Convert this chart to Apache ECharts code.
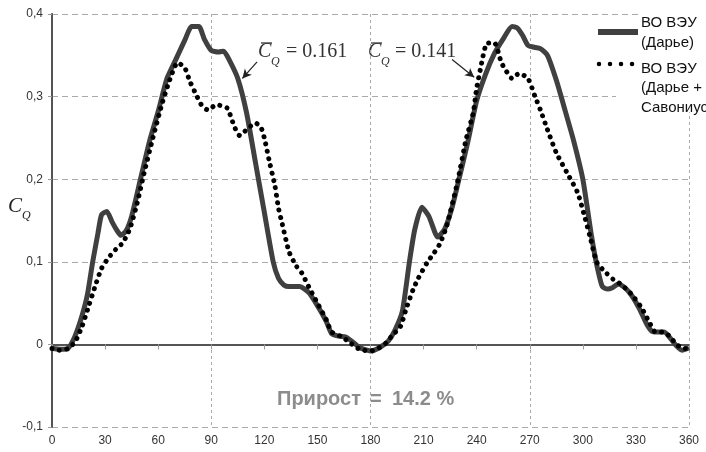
<!DOCTYPE html>
<html>
<head>
<meta charset="utf-8">
<script src="https://cdn.jsdelivr.net/npm/echarts@6/dist/echarts.min.js"></script>
<style>
  html, body { margin: 0; padding: 0; background: #fff; }
  #main { width: 706px; height: 452px; }
</style>
</head>
<body>
<div id="main"></div>
<script>
// угол поворота, градусы
var xTicks = [0, 30, 60, 90, 120, 150, 180, 210, 240, 270, 300, 330, 360];
var yTicks = [-0.1, 0, 0.1, 0.2, 0.3, 0.4];

// ВО ВЭУ (Дарье) — сплошная
var angDarrieus = [0,5,9,13,17,20,23,26,28,31,34,37,39,42,45,50,55,60,65,70,75,79,83,86,90,94,97,100,105,110,115,120,125,128,131,134,140,145,150,155,158,162,166,170,174,180,185,190,194,198,202,205,209,213,218,222,226,230,235,240,245,250,255,260,263,266,269,272,276,280,285,290,295,300,305,308,311,314,317,320,324,328,332,336,339,342,346,350,353,356,360];
var cqDarrieus = [-0.005,-0.006,-0.005,0.01,0.035,0.06,0.1,0.135,0.157,0.161,0.148,0.137,0.132,0.138,0.155,0.2,0.245,0.282,0.322,0.345,0.368,0.385,0.385,0.37,0.356,0.354,0.355,0.345,0.322,0.28,0.22,0.16,0.1,0.08,0.072,0.07,0.07,0.063,0.047,0.028,0.013,0.01,0.009,0.003,-0.004,-0.008,-0.004,0.004,0.018,0.04,0.1,0.139,0.166,0.155,0.13,0.14,0.165,0.2,0.245,0.295,0.327,0.352,0.37,0.385,0.383,0.374,0.362,0.36,0.358,0.35,0.32,0.283,0.245,0.2,0.13,0.095,0.07,0.067,0.069,0.073,0.068,0.058,0.043,0.025,0.016,0.015,0.015,0.006,-0.002,-0.007,-0.004];

// ВО ВЭУ (Дарье + Савониус) — пунктир
var angHybrid = [0,4,9,13,17,21,24,28,32,36,40,44,48,52,57,62,66,71,75,78,82,85,88,93,99,103,106,110,115,118,120,123,126,128,130,134,138,141,146,150,155,158,163,168,172,176,180,184,188,192,197,200,204,207,212,216,219,223,229,234,238,240,242,246,250,254,257,260,264,269,273,276,280,285,291,297,301,304,308,313,317,322,327,333,338,341,345,349,353,357,360];
var cqHybrid = [-0.005,-0.007,-0.005,0.003,0.022,0.048,0.068,0.092,0.105,0.115,0.123,0.14,0.17,0.207,0.25,0.29,0.317,0.341,0.335,0.318,0.3,0.288,0.284,0.29,0.286,0.264,0.253,0.26,0.268,0.263,0.25,0.22,0.192,0.165,0.147,0.112,0.095,0.087,0.066,0.05,0.03,0.015,0.01,0.003,-0.004,-0.007,-0.008,-0.005,0,0.01,0.022,0.042,0.066,0.08,0.099,0.111,0.121,0.143,0.195,0.248,0.28,0.31,0.332,0.365,0.365,0.341,0.33,0.322,0.328,0.322,0.3,0.284,0.26,0.232,0.208,0.184,0.155,0.131,0.099,0.087,0.079,0.072,0.062,0.045,0.025,0.015,0.015,0.01,0,-0.005,-0.005];

function pairs(xs, ys) {
  var out = [];
  for (var i = 0; i < xs.length; i++) out.push([xs[i], ys[i]]);
  return out;
}

var myChart = echarts.init(document.getElementById('main'));
var serif = '"Liberation Serif", "DejaVu Serif", serif';
var sans = '"Liberation Sans", Arial, sans-serif';

myChart.setOption({
  animation: false,
  backgroundColor: '#fff',
  grid: { left: 52, right: 17, top: 14, bottom: 25 },
  xAxis: [{
    type: 'value', min: 0, max: 360, interval: 30,
    axisLine: { lineStyle: { color: '#9a9a9a', width: 2 } },
    axisTick: { show: true, length: 5, lineStyle: { color: '#9a9a9a' } },
    axisLabel: { color: '#333', fontSize: 12, fontFamily: sans, margin: 8 },
    splitLine: { show: false }
  }, {
    // верхняя рамка + вертикальная сетка через 90
    type: 'value', min: 0, max: 360, interval: 90, position: 'top',
    axisLine: { show: true, lineStyle: { color: '#555', width: 2 } },
    axisTick: { show: false }, axisLabel: { show: false },
    splitLine: { show: true, lineStyle: { color: '#aaa', type: [3, 3], width: 1 } }
  }],
  yAxis: [{
    type: 'value', min: -0.1, max: 0.4, interval: 0.1,
    axisLine: { show: true, lineStyle: { color: '#9a9a9a', width: 2 } },
    axisTick: { show: true, length: 4, lineStyle: { color: '#9a9a9a' } },
    axisLabel: {
      color: '#333', fontSize: 12, fontFamily: sans, margin: 9,
      formatter: function (v) { return String(Math.round(v * 10) / 10).replace('.', ','); }
    },
    splitLine: { show: true, lineStyle: { color: '#aaa', type: [6, 4], width: 1 } }
  }, {
    type: 'value', min: -0.1, max: 0.4, interval: 0.1, position: 'right',
    axisLine: { show: true, lineStyle: { color: '#555', width: 2 } },
    axisTick: { show: false }, axisLabel: { show: false }, splitLine: { show: false }
  }],
  series: [{
    name: 'ВО ВЭУ (Дарье)',
    type: 'line', data: pairs(angDarrieus, cqDarrieus),
    showSymbol: false, smooth: 0.2, z: 3,
    lineStyle: { color: '#404040', width: 5, join: 'round' },
    markLine: {
      silent: true, symbol: ['none', 'arrow'], symbolSize: [7, 9],
      label: { show: false },
      lineStyle: { color: '#222', width: 1.2, type: 'solid' },
      data: [[{ coord: [115.9, 0.342] }, { coord: [107.6, 0.322] }]]
    }
  }, {
    name: 'ВО ВЭУ (Дарье + Савониус)',
    type: 'line', data: pairs(angHybrid, cqHybrid),
    showSymbol: false, smooth: 0.2, z: 4,
    lineStyle: { color: '#000', width: 5, type: [0.01, 7.5], cap: 'round' },
    markLine: {
      silent: true, symbol: ['none', 'arrow'], symbolSize: [7, 9],
      label: { show: false },
      lineStyle: { color: '#222', width: 1.2, type: 'solid' },
      data: [[{ coord: [226.1, 0.345] }, { coord: [238.6, 0.3235] }]]
    }
  }],
  graphic: [
    // подложка легенды
    { type: 'rect', shape: { x: 640, y: 0, width: 66, height: 112 }, style: { fill: '#fff' }, z: 50 },
    { type: 'rect', shape: { x: 616, y: 88, width: 24, height: 24 }, style: { fill: '#fff' }, z: 50 },
    { type: 'line', shape: { x1: 598, y1: 32, x2: 638, y2: 32 }, style: { stroke: '#404040', lineWidth: 6 }, z: 51 },
    { type: 'line', shape: { x1: 599, y1: 64, x2: 635, y2: 64 }, style: { stroke: '#000', lineWidth: 4.5, lineDash: [0.01, 11], lineCap: 'round' }, z: 51 },
    { type: 'text', left: 641, top: 13, z: 52, style: { text: 'ВО ВЭУ\n(Дарье)', font: '15px ' + sans, fill: '#111', lineHeight: 20 } },
    { type: 'text', left: 641, top: 59, z: 52, style: { text: 'ВО ВЭУ\n(Дарье +\nСавониус', font: '15px ' + sans, fill: '#111', lineHeight: 19.5 } },

    // подпись оси Y
    { type: 'text', left: 8, top: 196, style: { text: 'C', font: 'italic 21px ' + serif, fill: '#222' } },
    { type: 'text', left: 22, top: 210, style: { text: 'Q', font: 'italic 12px ' + serif, fill: '#222' } },

    // средние значения
    { type: 'text', left: 258, top: 42, style: { text: 'C', font: 'italic 20px ' + serif, fill: '#333' } },
    { type: 'line', shape: { x1: 261, y1: 43, x2: 272, y2: 43 }, style: { stroke: '#333', lineWidth: 1.3 } },
    { type: 'text', left: 271, top: 56, style: { text: 'Q', font: 'italic 12px ' + serif, fill: '#333' } },
    { type: 'text', left: 286, top: 42, style: { text: '= 0.161', font: '20px ' + serif, fill: '#333' } },

    { type: 'text', left: 368, top: 42, style: { text: 'C', font: 'italic 20px ' + serif, fill: '#333' } },
    { type: 'line', shape: { x1: 371, y1: 43, x2: 382, y2: 43 }, style: { stroke: '#333', lineWidth: 1.3 } },
    { type: 'text', left: 381, top: 56, style: { text: 'Q', font: 'italic 12px ' + serif, fill: '#333' } },
    { type: 'text', left: 395, top: 42, style: { text: '= 0.141', font: '20px ' + serif, fill: '#333' } },

    { type: 'text', left: 277, top: 389, style: { text: 'Прирост', font: 'bold 20px ' + sans, fill: '#8c8c8c' } },
    { type: 'text', left: 370, top: 389, style: { text: '=', font: 'bold 20px ' + sans, fill: '#8c8c8c' } },
    { type: 'text', left: 392, top: 389, style: { text: '14.2 %', font: 'bold 20px ' + sans, fill: '#8c8c8c' } }
  ]
});
</script>
</body>
</html>
